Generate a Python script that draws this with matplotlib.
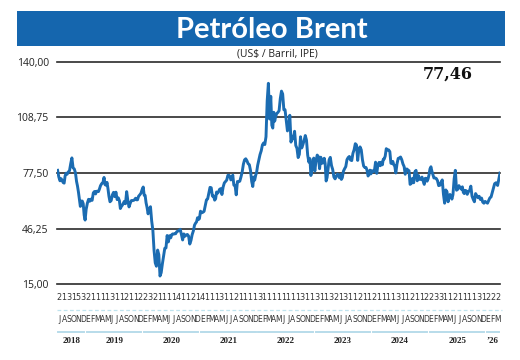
import matplotlib
matplotlib.use("Agg")
import matplotlib.pyplot as plt
import matplotlib.transforms as mtransforms
from matplotlib.patches import Rectangle
from matplotlib.lines import Line2D
from matplotlib import font_manager

# ---------------- data (weekly-ish Brent closes, per month) ----------------
y2018 = [  # Jul..Dec
    [79.0, 75.3, 73.1, 74.3],
    [73.2, 72.1, 71.8, 75.8, 77.4],
    [76.8, 78.1, 78.8, 82.7],
    [86.0, 80.4, 79.8, 77.6],
    [72.8, 70.2, 66.8, 62.6, 58.7],
    [61.7, 61.7, 60.3, 53.8, 51.0],
]
y2019 = [
    [57.1, 60.5, 62.7, 61.6],
    [62.8, 62.1, 66.3, 67.1],
    [65.7, 67.2, 67.2, 67.0, 68.4],
    [70.3, 71.5, 71.9, 75.0],
    [70.9, 70.6, 72.2, 68.7, 64.5],
    [61.3, 62.0, 65.2, 66.6],
    [64.2, 66.7, 62.5, 63.5],
    [61.9, 57.5, 58.6, 59.3, 60.4],
    [61.5, 60.2, 67.0, 61.9],
    [58.4, 60.5, 62.0, 62.0],
    [62.1, 62.5, 63.3, 62.4, 62.4],
    [64.4, 65.2, 66.1, 68.2],
]
y2020 = [
    [69.6, 65.0, 64.9, 60.7, 58.2],
    [54.5, 57.3, 58.5, 50.5],
    [45.3, 33.9, 26.9, 25.0],
    [34.1, 31.5, 19.5, 21.4],
    [26.4, 30.9, 35.1, 35.3],
    [42.3, 38.7, 42.2, 41.0],
    [42.8, 43.2, 43.1, 43.3, 43.3],
    [44.4, 44.8, 45.0, 45.8],
    [42.7, 39.8, 43.2, 41.9],
    [42.6, 42.9, 42.0, 37.5],
    [39.5, 42.8, 44.9, 48.2],
    [49.3, 50.0, 52.3, 51.3, 51.8],
]
y2021 = [
    [56.0, 55.1, 55.4, 55.9],
    [59.3, 62.4, 62.9, 66.1],
    [69.4, 69.2, 64.5, 64.6],
    [62.2, 63.0, 66.8, 66.1, 66.8],
    [68.3, 68.7, 65.4, 69.6],
    [71.9, 72.7, 73.5, 76.2],
    [76.2, 75.6, 73.6, 74.1, 76.3],
    [70.7, 70.6, 65.2, 72.7],
    [72.6, 72.9, 75.3, 78.1],
    [82.4, 84.9, 85.5, 84.4],
    [82.7, 82.2, 78.9, 72.7],
    [69.9, 75.2, 73.5, 76.1, 77.8],
]
y2022 = [
    [81.8, 84.9, 87.9, 90.0],
    [93.3, 94.4, 93.5, 97.9],
    [118.1, 128.0, 107.9, 120.7],
    [104.4, 102.8, 111.7, 106.7, 109.3],
    [111.0, 111.6, 112.6, 119.4],
    [123.6, 122.0, 113.1, 113.1],
    [107.0, 101.2, 103.2, 110.0],
    [94.9, 98.2, 96.7, 101.0],
    [93.0, 91.4, 86.2, 88.0],
    [97.9, 91.6, 93.5, 95.8],
    [98.6, 96.0, 87.6, 83.6],
    [85.6, 76.1, 79.0, 83.9, 85.9],
]
y2023 = [
    [78.6, 84.3, 87.6, 86.7],
    [79.9, 86.4, 83.0, 83.2],
    [85.8, 82.8, 73.0, 75.0, 79.8],
    [84.9, 86.3, 81.7, 79.5],
    [75.3, 74.2, 75.6, 76.9],
    [76.1, 74.8, 76.6, 73.9, 74.9],
    [78.5, 79.9, 81.1, 85.0],
    [86.2, 86.8, 84.8, 84.5],
    [88.6, 90.6, 94.0, 93.3],
    [84.6, 90.9, 92.2, 90.5],
    [84.9, 81.4, 80.6, 80.6],
    [78.9, 75.8, 76.6, 79.1, 77.0],
]
y2024 = [
    [78.8, 78.3, 78.6, 83.6],
    [77.3, 82.2, 83.5, 81.6],
    [83.6, 82.1, 85.3, 85.4, 87.0],
    [91.2, 90.5, 90.5, 89.5],
    [83.0, 82.8, 84.0, 82.1, 81.6],
    [77.5, 82.6, 85.7, 86.0],
    [86.5, 85.0, 82.6, 81.1],
    [76.8, 79.7, 79.7, 79.0, 78.8],
    [71.1, 71.6, 74.5, 72.0],
    [78.1, 79.0, 73.1, 76.1],
    [73.9, 73.9, 75.2, 72.9],
    [71.1, 74.5, 74.5, 72.9, 74.2],
]
y2025 = [
    [76.5, 79.8, 81.0, 78.5, 76.8],
    [74.7, 74.7, 74.4, 73.2],
    [70.4, 70.6, 72.2, 73.6],
    [65.6, 60.5, 67.96, 66.9],
    [61.3, 63.9, 65.4, 64.8, 62.8],
    [65.3, 74.2, 79.0, 67.8],
    [68.3, 70.4, 69.3, 68.4],
    [69.7, 66.6, 65.9, 67.7, 67.5],
    [65.5, 67.0, 67.7, 70.1],
    [64.5, 62.7, 61.3, 65.9],
    [64.8, 63.6, 64.4, 62.6],
    [63.4, 61.1, 60.5, 61.5],
]
y2026 = [  # Jan..Mar
    [61.0, 60.5, 62.0, 63.5],
    [64.0, 66.5, 69.0, 71.5],
    [72.0, 70.5, 77.46],
]

last_value = "77,46"
y_ticks = [15.0, 46.25, 77.5, 108.75, 140.0]
y_tick_labels = ["15,00", "46,25", "77,50", "108,75", "140,00"]
month_letters = list("JASOND" + "EFMAMJJASOND" * 7 + "EFM")
month_digits = list("2131532111131121122321111411214"
                    "111311211113111111113113113213"
                    "11211211113112112233112111131222")
year_labels = ["2018", "2019", "2020", "2021", "2022", "2023", "2024", "2025", "\u201926"]
year_months = [6, 12, 12, 12, 12, 12, 12, 12, 3]

# ---------------- build series ----------------
months = y2018 + y2019 + y2020 + y2021 + y2022 + y2023 + y2024 + y2025 + y2026
xs, ys = [], []
for m, vals in enumerate(months):
    n = len(vals)
    for i, v in enumerate(vals):
        xs.append(m + (i + 0.5) / n if not (m == len(months) - 1 and i == n - 1) else m + 1.0)
        ys.append(v)
n_months = len(months)

# narrow font selection for the month rows
fl = font_manager.fontManager.ttflist
names = {f.name for f in fl}
narrow_kw = None
if "Liberation Sans Narrow" in names:
    narrow_kw = dict(family="Liberation Sans Narrow")
    let_size, dig_size = 6.5, 7
elif any(f.name == "DejaVu Sans" and str(f.stretch) in ("condensed", "semi-condensed") for f in fl):
    narrow_kw = dict(family="DejaVu Sans", fontstretch="condensed")
    let_size, dig_size = 6, 6.5
else:
    narrow_kw = dict(family="DejaVu Sans")
    let_size, dig_size = 5.6, 6.3

# ---------------- figure ----------------
W, H = 520, 360
fig = plt.figure(figsize=(W / 100, H / 100), dpi=100)
fig.patch.set_facecolor("white")

def fy(px):
    return 1 - px / H

def fx(px):
    return px / W

ax = fig.add_axes([fx(57), fy(284), fx(500) - fx(57), fy(62) - fy(284)])
ax.set_xlim(0, n_months)
ax.set_ylim(15, 140)
for s in ax.spines.values():
    s.set_visible(False)
ax.set_xticks([])
ax.set_yticks(y_ticks)
ax.set_yticklabels(y_tick_labels, fontsize=7.5, family="Open Sans", color="#222222")
ax.tick_params(axis="y", length=0, pad=6)
for t in y_ticks:
    ax.axhline(t, color="#2a2a2a", lw=1.2, zorder=1, clip_on=False)

ax.plot(xs, ys, color="#1b6cb2", lw=2.1, zorder=3, solid_joinstyle="round")

# title bar
fig.patches.append(Rectangle((fx(17), fy(46)), fx(505) - fx(17), fy(11) - fy(46),
                             transform=fig.transFigure, facecolor="#1566ae",
                             edgecolor="none", zorder=0))
fig.text(fx(272), fy(38.5), "Petróleo Brent", color="white", fontsize=21,
         family="Lato", weight="bold", ha="center", va="baseline")
fig.text(fx(277), fy(54.5), "(US$ / Barril, IPE)", color="#222222", fontsize=7.5,
         family="Open Sans", ha="center", va="center")
ax.text(fx(448), fy(74), last_value, transform=fig.transFigure, fontsize=11.5,
        family="DejaVu Serif", weight="bold", color="#111111", ha="center", va="center")

# bottom month rows
tr = mtransforms.blended_transform_factory(ax.transData, fig.transFigure)
for m in range(n_months):
    ax.text(m + 0.5, fy(297), month_digits[m], transform=tr, fontsize=dig_size,
            color="#333333", ha="center", va="center", clip_on=False, **narrow_kw)
    ax.text(m + 0.5, fy(320), month_letters[m], transform=tr, fontsize=let_size,
            color="#333333", ha="center", va="center", clip_on=False, **narrow_kw)

fig.lines.append(Line2D([fx(57), fx(502)], [fy(309.5), fy(309.5)], transform=fig.transFigure,
                        color="#bfe3ee", lw=0.9, ls=(0, (3, 2))))

start = 0
for lab, nm in zip(year_labels, year_months):
    end = start + nm
    seg = Line2D([start + 0.3, end - 0.3], [fy(331.5), fy(331.5)], transform=tr,
                 color="#b8dcea", lw=1.4)
    ax.add_line(seg)
    seg.set_clip_on(False)
    ax.text((start + end) / 2, fy(341), lab, transform=tr, fontsize=6.5,
            family="Liberation Serif", weight="bold", color="#222222",
            ha="center", va="center", clip_on=False)
    start = end

fig.savefig("out.png", dpi=100, facecolor="white")
